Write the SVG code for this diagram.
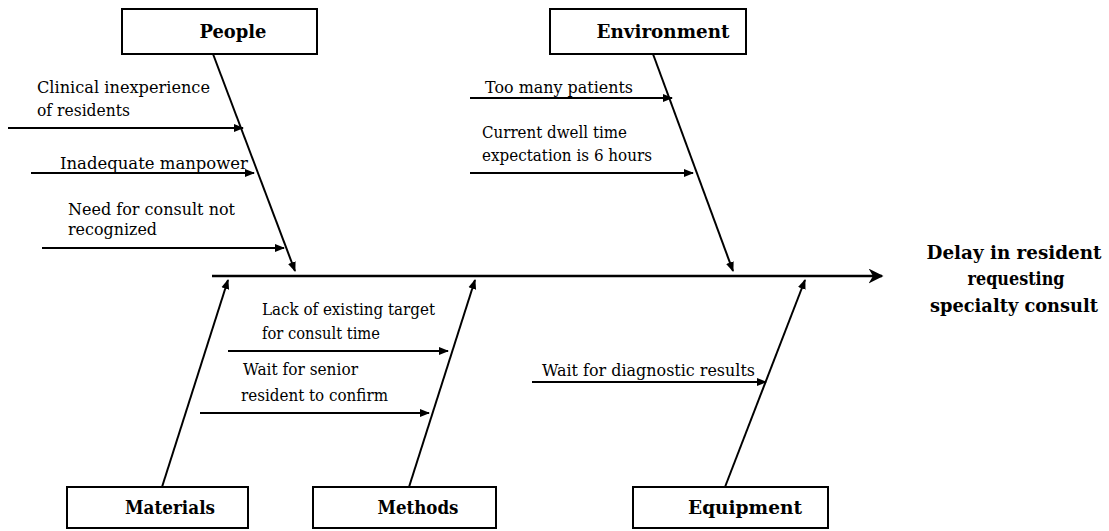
<svg xmlns="http://www.w3.org/2000/svg" width="1109" height="531" viewBox="0 0 1109 531">
<style>
.box{fill:#fff;stroke:#000;stroke-width:2}
.ln{stroke:#000;stroke-width:2;fill:none;marker-end:url(#ah)}
.sp{stroke:#000;stroke-width:2.5;fill:none;marker-end:url(#ahb)}
.hd{font-family:'DejaVu Serif','Liberation Serif',serif;font-weight:bold;font-size:19px;text-anchor:middle;fill:#000}
.lb{font-family:'DejaVu Serif','Liberation Serif',serif;font-size:17px;fill:#000}
</style>
<defs>
<marker id="ah" viewBox="0 0 10 10" refX="9" refY="5" markerWidth="5" markerHeight="5" orient="auto" markerUnits="strokeWidth"><path d="M0,1 L10,5 L0,9 z" fill="#000"/></marker>
<marker id="ahb" viewBox="0 0 10 10" refX="9" refY="5" markerWidth="6" markerHeight="6" orient="auto" markerUnits="strokeWidth"><path d="M0,0 L10,5 L0,10 L3,5 z" fill="#000"/></marker>
</defs>
<rect width="1109" height="531" fill="#fff"/>
<g id="connectors">
<line class="sp" x1="212" y1="276" x2="882" y2="276"/>
<line class="ln" x1="213" y1="54" x2="295" y2="271"/>
<line class="ln" x1="653" y1="54" x2="733" y2="271"/>
<line class="ln" x1="162" y1="487" x2="228" y2="280"/>
<line class="ln" x1="409" y1="487" x2="475" y2="280"/>
<line class="ln" x1="725" y1="487" x2="805" y2="280"/>
<line class="ln" x1="8" y1="128" x2="243" y2="128"/>
<line class="ln" x1="31" y1="173" x2="254" y2="173"/>
<line class="ln" x1="42" y1="248" x2="284" y2="248"/>
<line class="ln" x1="470" y1="98" x2="672" y2="98"/>
<line class="ln" x1="470" y1="173" x2="693" y2="173"/>
<line class="ln" x1="228" y1="351" x2="448" y2="351"/>
<line class="ln" x1="200" y1="413" x2="429" y2="413"/>
<line class="ln" x1="532" y1="382" x2="766" y2="382"/>
</g>
<g id="people"><rect class="box" x="122" y="9" width="195" height="45"/><text class="hd" x="233" y="38" textLength="67" lengthAdjust="spacingAndGlyphs">People</text></g>
<g id="environment"><rect class="box" x="550" y="9" width="196" height="45"/><text class="hd" x="663" y="38" textLength="133" lengthAdjust="spacingAndGlyphs">Environment</text></g>
<g id="materials"><rect class="box" x="67" y="487" width="181" height="41"/><text class="hd" x="170" y="514" textLength="90" lengthAdjust="spacingAndGlyphs">Materials</text></g>
<g id="methods"><rect class="box" x="313" y="487" width="183" height="41"/><text class="hd" x="418" y="514" textLength="81" lengthAdjust="spacingAndGlyphs">Methods</text></g>
<g id="equipment"><rect class="box" x="633" y="487" width="195" height="41"/><text class="hd" x="745" y="514" textLength="114" lengthAdjust="spacingAndGlyphs">Equipment</text></g>
<g id="effect">
<text class="hd" x="1014" y="259" textLength="175" lengthAdjust="spacingAndGlyphs">Delay in resident</text>
<text class="hd" x="1016" y="285" textLength="97" lengthAdjust="spacingAndGlyphs">requesting</text>
<text class="hd" x="1014" y="312" textLength="168" lengthAdjust="spacingAndGlyphs">specialty consult</text>
</g>
<g id="cause-clinical"><text class="lb" x="37" y="93" textLength="173" lengthAdjust="spacingAndGlyphs">Clinical inexperience</text><text class="lb" x="37" y="116" textLength="93" lengthAdjust="spacingAndGlyphs">of residents</text></g>
<g id="cause-manpower"><text class="lb" x="60" y="169" textLength="188" lengthAdjust="spacingAndGlyphs">Inadequate manpower</text></g>
<g id="cause-need"><text class="lb" x="68" y="215" textLength="167" lengthAdjust="spacingAndGlyphs">Need for consult not</text><text class="lb" x="68" y="235" textLength="89" lengthAdjust="spacingAndGlyphs">recognized</text></g>
<g id="cause-patients"><text class="lb" x="485" y="93" textLength="148" lengthAdjust="spacingAndGlyphs">Too many patients</text></g>
<g id="cause-dwell"><text class="lb" x="482" y="138" textLength="145" lengthAdjust="spacingAndGlyphs">Current dwell time</text><text class="lb" x="482" y="161" textLength="170" lengthAdjust="spacingAndGlyphs">expectation is 6 hours</text></g>
<g id="cause-target"><text class="lb" x="262" y="315" textLength="173" lengthAdjust="spacingAndGlyphs">Lack of existing target</text><text class="lb" x="262" y="339" textLength="118" lengthAdjust="spacingAndGlyphs">for consult time</text></g>
<g id="cause-senior"><text class="lb" x="243" y="375" textLength="115" lengthAdjust="spacingAndGlyphs">Wait for senior</text><text class="lb" x="241" y="401" textLength="147" lengthAdjust="spacingAndGlyphs">resident to confirm</text></g>
<g id="cause-diagnostic"><text class="lb" x="542" y="376" textLength="213" lengthAdjust="spacingAndGlyphs">Wait for diagnostic results</text></g>
</svg>
